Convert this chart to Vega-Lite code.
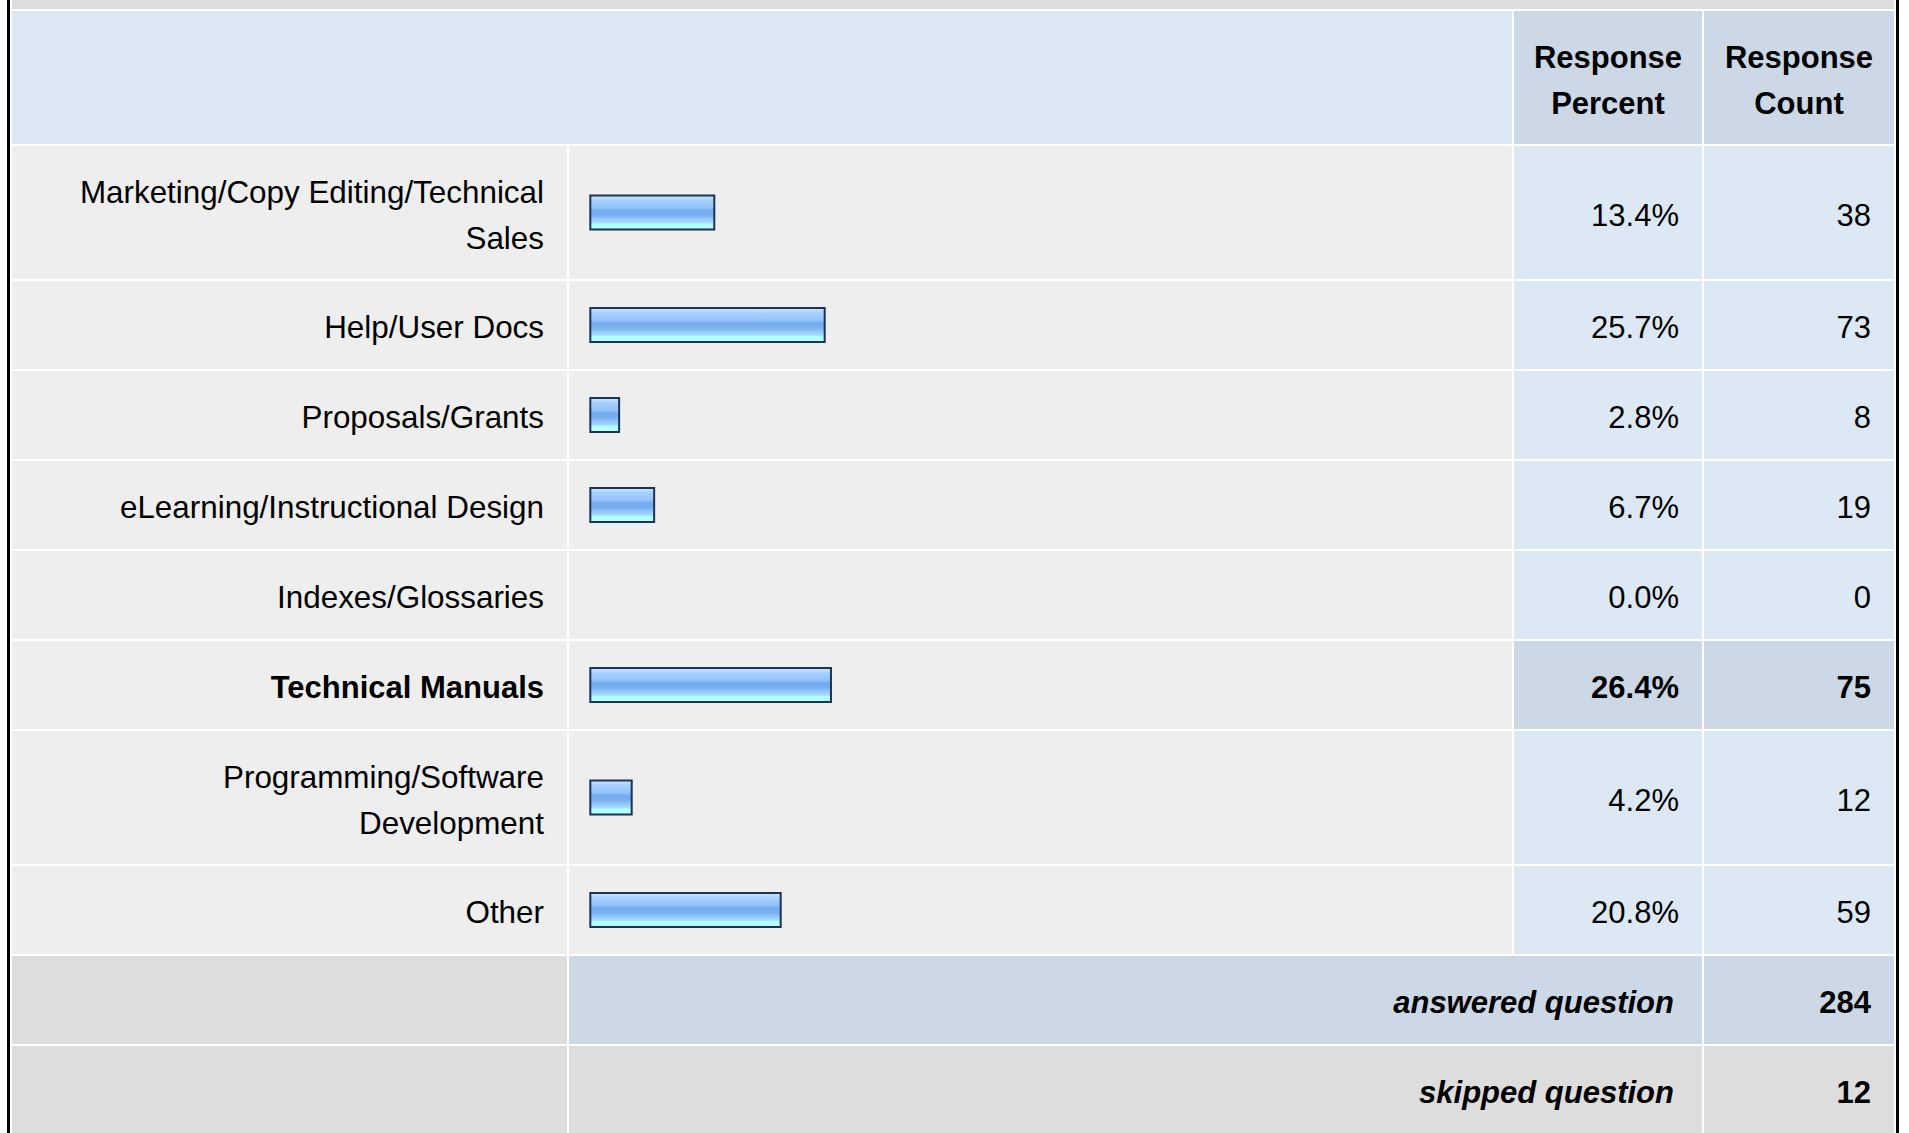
{
  "$schema": "https://vega.github.io/schema/vega-lite/v6.json",
  "padding": {"left": 7, "top": 0, "right": 0, "bottom": 0},
  "background": "#ffffff",
  "datasets": {
    "responses": [
      {"answer": "Marketing/Copy Editing/Technical\nSales", "percent": 0.134, "count": 38},
      {"answer": "Help/User Docs", "percent": 0.257, "count": 73},
      {"answer": "Proposals/Grants", "percent": 0.028, "count": 8},
      {"answer": "eLearning/Instructional Design", "percent": 0.067, "count": 19},
      {"answer": "Indexes/Glossaries", "percent": 0.0, "count": 0},
      {"answer": "Technical Manuals", "percent": 0.264, "count": 75},
      {"answer": "Programming/Software\nDevelopment", "percent": 0.042, "count": 12},
      {"answer": "Other", "percent": 0.208, "count": 59}
    ],
    "summary": [
      {"item": "answered question", "count": 284},
      {"item": "skipped question", "count": 12}
    ]
  },
  "hconcat": [
    {"width": 3, "height": 1133, "view": {"fill": "#000000"}, "data": {"values": [{}]}, "mark": {"type": "text", "text": "", "fontSize": 1}},
    {"vconcat": [
      {"width": 1882, "height": 9, "view": {"fill": "#dddddd"}, "data": {"values": [{}]}, "mark": {"type": "text", "text": "", "fontSize": 1}},
      {"hconcat": [
        {"width": 1500, "height": 133, "view": {"fill": "#dde8f5"}, "data": {"values": [{}]}, "mark": {"type": "text", "text": "", "fontSize": 1}},
        {"width": 188, "height": 133, "view": {"fill": "#ccd8e6"}, "data": {"values": [{}]}, "mark": {"type": "text", "text": "Response\nPercent", "fontWeight": "bold", "align": "center", "dy": -19}},
        {"width": 190, "height": 133, "view": {"fill": "#ccd8e6"}, "data": {"values": [{}]}, "mark": {"type": "text", "text": "Response\nCount", "fontWeight": "bold", "align": "center", "dy": -19}}
      ]},
      {"hconcat": [
        {"width": 555, "height": 133, "view": {"fill": "#eeeeee"}, "data": {"name": "responses"}, "transform": [{"filter": {"field": "answer", "equal": "Marketing/Copy Editing/Technical\nSales"}}], "mark": {"type": "text", "align": "right", "dx": -23, "dy": -19, "fontSize": 31.4}, "encoding": {"x": {"value": "width"}, "text": {"field": "answer", "type": "nominal"}}},
        {"width": 943, "height": 133, "view": {"fill": "#eeeeee"}, "data": {"name": "responses"}, "transform": [{"filter": {"field": "answer", "equal": "Marketing/Copy Editing/Technical\nSales"}}, {"filter": "datum.percent > 0"}], "mark": {"type": "bar", "height": 34}, "encoding": {"x": {"field": "percent", "type": "quantitative", "axis": null, "scale": {"domain": [0, 1], "range": [25, 922.6]}}, "x2": {"datum": -0.0041}, "y": {"field": "answer", "type": "nominal", "axis": null}}},
        {"width": 188, "height": 133, "view": {"fill": "#dde8f5"}, "data": {"name": "responses"}, "transform": [{"filter": {"field": "answer", "equal": "Marketing/Copy Editing/Technical\nSales"}}], "mark": {"type": "text", "align": "right", "dx": -23}, "encoding": {"x": {"value": "width"}, "text": {"field": "percent", "type": "quantitative", "format": ".1%"}}},
        {"width": 190, "height": 133, "view": {"fill": "#dde8f5"}, "data": {"name": "responses"}, "transform": [{"filter": {"field": "answer", "equal": "Marketing/Copy Editing/Technical\nSales"}}], "mark": {"type": "text", "align": "right", "dx": -23}, "encoding": {"x": {"value": "width"}, "text": {"field": "count", "type": "quantitative", "format": "d"}}}
      ]},
      {"hconcat": [
        {"width": 555, "height": 88, "view": {"fill": "#eeeeee"}, "data": {"name": "responses"}, "transform": [{"filter": {"field": "answer", "equal": "Help/User Docs"}}], "mark": {"type": "text", "align": "right", "dx": -23, "fontSize": 31.4}, "encoding": {"x": {"value": "width"}, "text": {"field": "answer", "type": "nominal"}}},
        {"width": 943, "height": 88, "view": {"fill": "#eeeeee"}, "data": {"name": "responses"}, "transform": [{"filter": {"field": "answer", "equal": "Help/User Docs"}}, {"filter": "datum.percent > 0"}], "mark": {"type": "bar", "height": 34}, "encoding": {"x": {"field": "percent", "type": "quantitative", "axis": null, "scale": {"domain": [0, 1], "range": [25, 922.6]}}, "x2": {"datum": -0.0041}, "y": {"field": "answer", "type": "nominal", "axis": null}}},
        {"width": 188, "height": 88, "view": {"fill": "#dde8f5"}, "data": {"name": "responses"}, "transform": [{"filter": {"field": "answer", "equal": "Help/User Docs"}}], "mark": {"type": "text", "align": "right", "dx": -23}, "encoding": {"x": {"value": "width"}, "text": {"field": "percent", "type": "quantitative", "format": ".1%"}}},
        {"width": 190, "height": 88, "view": {"fill": "#dde8f5"}, "data": {"name": "responses"}, "transform": [{"filter": {"field": "answer", "equal": "Help/User Docs"}}], "mark": {"type": "text", "align": "right", "dx": -23}, "encoding": {"x": {"value": "width"}, "text": {"field": "count", "type": "quantitative", "format": "d"}}}
      ]},
      {"hconcat": [
        {"width": 555, "height": 88, "view": {"fill": "#eeeeee"}, "data": {"name": "responses"}, "transform": [{"filter": {"field": "answer", "equal": "Proposals/Grants"}}], "mark": {"type": "text", "align": "right", "dx": -23, "fontSize": 31.4}, "encoding": {"x": {"value": "width"}, "text": {"field": "answer", "type": "nominal"}}},
        {"width": 943, "height": 88, "view": {"fill": "#eeeeee"}, "data": {"name": "responses"}, "transform": [{"filter": {"field": "answer", "equal": "Proposals/Grants"}}, {"filter": "datum.percent > 0"}], "mark": {"type": "bar", "height": 34}, "encoding": {"x": {"field": "percent", "type": "quantitative", "axis": null, "scale": {"domain": [0, 1], "range": [25, 922.6]}}, "x2": {"datum": -0.0041}, "y": {"field": "answer", "type": "nominal", "axis": null}}},
        {"width": 188, "height": 88, "view": {"fill": "#dde8f5"}, "data": {"name": "responses"}, "transform": [{"filter": {"field": "answer", "equal": "Proposals/Grants"}}], "mark": {"type": "text", "align": "right", "dx": -23}, "encoding": {"x": {"value": "width"}, "text": {"field": "percent", "type": "quantitative", "format": ".1%"}}},
        {"width": 190, "height": 88, "view": {"fill": "#dde8f5"}, "data": {"name": "responses"}, "transform": [{"filter": {"field": "answer", "equal": "Proposals/Grants"}}], "mark": {"type": "text", "align": "right", "dx": -23}, "encoding": {"x": {"value": "width"}, "text": {"field": "count", "type": "quantitative", "format": "d"}}}
      ]},
      {"hconcat": [
        {"width": 555, "height": 88, "view": {"fill": "#eeeeee"}, "data": {"name": "responses"}, "transform": [{"filter": {"field": "answer", "equal": "eLearning/Instructional Design"}}], "mark": {"type": "text", "align": "right", "dx": -23, "fontSize": 31.4}, "encoding": {"x": {"value": "width"}, "text": {"field": "answer", "type": "nominal"}}},
        {"width": 943, "height": 88, "view": {"fill": "#eeeeee"}, "data": {"name": "responses"}, "transform": [{"filter": {"field": "answer", "equal": "eLearning/Instructional Design"}}, {"filter": "datum.percent > 0"}], "mark": {"type": "bar", "height": 34}, "encoding": {"x": {"field": "percent", "type": "quantitative", "axis": null, "scale": {"domain": [0, 1], "range": [25, 922.6]}}, "x2": {"datum": -0.0041}, "y": {"field": "answer", "type": "nominal", "axis": null}}},
        {"width": 188, "height": 88, "view": {"fill": "#dde8f5"}, "data": {"name": "responses"}, "transform": [{"filter": {"field": "answer", "equal": "eLearning/Instructional Design"}}], "mark": {"type": "text", "align": "right", "dx": -23}, "encoding": {"x": {"value": "width"}, "text": {"field": "percent", "type": "quantitative", "format": ".1%"}}},
        {"width": 190, "height": 88, "view": {"fill": "#dde8f5"}, "data": {"name": "responses"}, "transform": [{"filter": {"field": "answer", "equal": "eLearning/Instructional Design"}}], "mark": {"type": "text", "align": "right", "dx": -23}, "encoding": {"x": {"value": "width"}, "text": {"field": "count", "type": "quantitative", "format": "d"}}}
      ]},
      {"hconcat": [
        {"width": 555, "height": 88, "view": {"fill": "#eeeeee"}, "data": {"name": "responses"}, "transform": [{"filter": {"field": "answer", "equal": "Indexes/Glossaries"}}], "mark": {"type": "text", "align": "right", "dx": -23, "fontSize": 31.4}, "encoding": {"x": {"value": "width"}, "text": {"field": "answer", "type": "nominal"}}},
        {"width": 943, "height": 88, "view": {"fill": "#eeeeee"}, "data": {"name": "responses"}, "transform": [{"filter": {"field": "answer", "equal": "Indexes/Glossaries"}}, {"filter": "datum.percent > 0"}], "mark": {"type": "bar", "height": 34}, "encoding": {"x": {"field": "percent", "type": "quantitative", "axis": null, "scale": {"domain": [0, 1], "range": [25, 922.6]}}, "x2": {"datum": -0.0041}, "y": {"field": "answer", "type": "nominal", "axis": null}}},
        {"width": 188, "height": 88, "view": {"fill": "#dde8f5"}, "data": {"name": "responses"}, "transform": [{"filter": {"field": "answer", "equal": "Indexes/Glossaries"}}], "mark": {"type": "text", "align": "right", "dx": -23}, "encoding": {"x": {"value": "width"}, "text": {"field": "percent", "type": "quantitative", "format": ".1%"}}},
        {"width": 190, "height": 88, "view": {"fill": "#dde8f5"}, "data": {"name": "responses"}, "transform": [{"filter": {"field": "answer", "equal": "Indexes/Glossaries"}}], "mark": {"type": "text", "align": "right", "dx": -23}, "encoding": {"x": {"value": "width"}, "text": {"field": "count", "type": "quantitative", "format": "d"}}}
      ]},
      {"hconcat": [
        {"width": 555, "height": 88, "view": {"fill": "#eeeeee"}, "data": {"name": "responses"}, "transform": [{"filter": {"field": "answer", "equal": "Technical Manuals"}}], "mark": {"type": "text", "align": "right", "dx": -23, "fontWeight": "bold"}, "encoding": {"x": {"value": "width"}, "text": {"field": "answer", "type": "nominal"}}},
        {"width": 943, "height": 88, "view": {"fill": "#eeeeee"}, "data": {"name": "responses"}, "transform": [{"filter": {"field": "answer", "equal": "Technical Manuals"}}, {"filter": "datum.percent > 0"}], "mark": {"type": "bar", "height": 34}, "encoding": {"x": {"field": "percent", "type": "quantitative", "axis": null, "scale": {"domain": [0, 1], "range": [25, 922.6]}}, "x2": {"datum": -0.0041}, "y": {"field": "answer", "type": "nominal", "axis": null}}},
        {"width": 188, "height": 88, "view": {"fill": "#ccd8e6"}, "data": {"name": "responses"}, "transform": [{"filter": {"field": "answer", "equal": "Technical Manuals"}}], "mark": {"type": "text", "align": "right", "dx": -23, "fontWeight": "bold"}, "encoding": {"x": {"value": "width"}, "text": {"field": "percent", "type": "quantitative", "format": ".1%"}}},
        {"width": 190, "height": 88, "view": {"fill": "#ccd8e6"}, "data": {"name": "responses"}, "transform": [{"filter": {"field": "answer", "equal": "Technical Manuals"}}], "mark": {"type": "text", "align": "right", "dx": -23, "fontWeight": "bold"}, "encoding": {"x": {"value": "width"}, "text": {"field": "count", "type": "quantitative", "format": "d"}}}
      ]},
      {"hconcat": [
        {"width": 555, "height": 133, "view": {"fill": "#eeeeee"}, "data": {"name": "responses"}, "transform": [{"filter": {"field": "answer", "equal": "Programming/Software\nDevelopment"}}], "mark": {"type": "text", "align": "right", "dx": -23, "dy": -19, "fontSize": 31.4}, "encoding": {"x": {"value": "width"}, "text": {"field": "answer", "type": "nominal"}}},
        {"width": 943, "height": 133, "view": {"fill": "#eeeeee"}, "data": {"name": "responses"}, "transform": [{"filter": {"field": "answer", "equal": "Programming/Software\nDevelopment"}}, {"filter": "datum.percent > 0"}], "mark": {"type": "bar", "height": 34}, "encoding": {"x": {"field": "percent", "type": "quantitative", "axis": null, "scale": {"domain": [0, 1], "range": [25, 922.6]}}, "x2": {"datum": -0.0041}, "y": {"field": "answer", "type": "nominal", "axis": null}}},
        {"width": 188, "height": 133, "view": {"fill": "#dde8f5"}, "data": {"name": "responses"}, "transform": [{"filter": {"field": "answer", "equal": "Programming/Software\nDevelopment"}}], "mark": {"type": "text", "align": "right", "dx": -23}, "encoding": {"x": {"value": "width"}, "text": {"field": "percent", "type": "quantitative", "format": ".1%"}}},
        {"width": 190, "height": 133, "view": {"fill": "#dde8f5"}, "data": {"name": "responses"}, "transform": [{"filter": {"field": "answer", "equal": "Programming/Software\nDevelopment"}}], "mark": {"type": "text", "align": "right", "dx": -23}, "encoding": {"x": {"value": "width"}, "text": {"field": "count", "type": "quantitative", "format": "d"}}}
      ]},
      {"hconcat": [
        {"width": 555, "height": 88, "view": {"fill": "#eeeeee"}, "data": {"name": "responses"}, "transform": [{"filter": {"field": "answer", "equal": "Other"}}], "mark": {"type": "text", "align": "right", "dx": -23, "fontSize": 31.4}, "encoding": {"x": {"value": "width"}, "text": {"field": "answer", "type": "nominal"}}},
        {"width": 943, "height": 88, "view": {"fill": "#eeeeee"}, "data": {"name": "responses"}, "transform": [{"filter": {"field": "answer", "equal": "Other"}}, {"filter": "datum.percent > 0"}], "mark": {"type": "bar", "height": 34}, "encoding": {"x": {"field": "percent", "type": "quantitative", "axis": null, "scale": {"domain": [0, 1], "range": [25, 922.6]}}, "x2": {"datum": -0.0041}, "y": {"field": "answer", "type": "nominal", "axis": null}}},
        {"width": 188, "height": 88, "view": {"fill": "#dde8f5"}, "data": {"name": "responses"}, "transform": [{"filter": {"field": "answer", "equal": "Other"}}], "mark": {"type": "text", "align": "right", "dx": -23}, "encoding": {"x": {"value": "width"}, "text": {"field": "percent", "type": "quantitative", "format": ".1%"}}},
        {"width": 190, "height": 88, "view": {"fill": "#dde8f5"}, "data": {"name": "responses"}, "transform": [{"filter": {"field": "answer", "equal": "Other"}}], "mark": {"type": "text", "align": "right", "dx": -23}, "encoding": {"x": {"value": "width"}, "text": {"field": "count", "type": "quantitative", "format": "d"}}}
      ]},
      {"hconcat": [
        {"width": 555, "height": 88, "view": {"fill": "#dddddd"}, "data": {"values": [{}]}, "mark": {"type": "text", "text": "", "fontSize": 1}},
        {"width": 1133, "height": 88, "view": {"fill": "#ccd8e6"}, "data": {"name": "summary"}, "transform": [{"filter": {"field": "item", "equal": "answered question"}}], "mark": {"type": "text", "align": "right", "dx": -28, "fontWeight": "bold", "fontStyle": "italic"}, "encoding": {"x": {"value": "width"}, "text": {"field": "item", "type": "nominal"}}},
        {"width": 190, "height": 88, "view": {"fill": "#ccd8e6"}, "data": {"name": "summary"}, "transform": [{"filter": {"field": "item", "equal": "answered question"}}], "mark": {"type": "text", "align": "right", "dx": -23, "fontWeight": "bold"}, "encoding": {"x": {"value": "width"}, "text": {"field": "count", "type": "quantitative", "format": "d"}}}
      ]},
      {"hconcat": [
        {"width": 555, "height": 87, "view": {"fill": "#dddddd"}, "data": {"values": [{}]}, "mark": {"type": "text", "text": "", "fontSize": 1}},
        {"width": 1133, "height": 87, "view": {"fill": "#dddddd"}, "data": {"name": "summary"}, "transform": [{"filter": {"field": "item", "equal": "skipped question"}}], "mark": {"type": "text", "align": "right", "dx": -28, "fontWeight": "bold", "fontStyle": "italic"}, "encoding": {"x": {"value": "width"}, "text": {"field": "item", "type": "nominal"}}},
        {"width": 190, "height": 87, "view": {"fill": "#dddddd"}, "data": {"name": "summary"}, "transform": [{"filter": {"field": "item", "equal": "skipped question"}}], "mark": {"type": "text", "align": "right", "dx": -23, "fontWeight": "bold"}, "encoding": {"x": {"value": "width"}, "text": {"field": "count", "type": "quantitative", "format": "d"}}}
      ]}
    ]},
    {"width": 3, "height": 1133, "view": {"fill": "#000000"}, "data": {"values": [{}]}, "mark": {"type": "text", "text": "", "fontSize": 1}}
  ],
  "config": {
    "view": {"stroke": null},
    "concat": {"spacing": 2},
    "text": {"font": "Liberation Sans", "fontSize": 31, "fill": "#000000", "lineBreak": "\n", "lineHeight": 46, "baseline": "middle", "dy": 4},
    "bar": {
      "fill": {"gradient": "linear", "x1": 0, "y1": 0, "x2": 0, "y2": 1, "stops": [
        {"offset": 0, "color": "#cfe6ff"},
        {"offset": 0.15, "color": "#a6d0ff"},
        {"offset": 0.35, "color": "#93c4fb"},
        {"offset": 0.45, "color": "#74abee"},
        {"offset": 0.58, "color": "#78b0f0"},
        {"offset": 0.7, "color": "#95c8fc"},
        {"offset": 0.8, "color": "#a6dcff"},
        {"offset": 0.84, "color": "#b2ffff"},
        {"offset": 1, "color": "#b2ffff"}
      ]},
      "stroke": "#1c3354",
      "strokeWidth": 2
    }
  }
}
